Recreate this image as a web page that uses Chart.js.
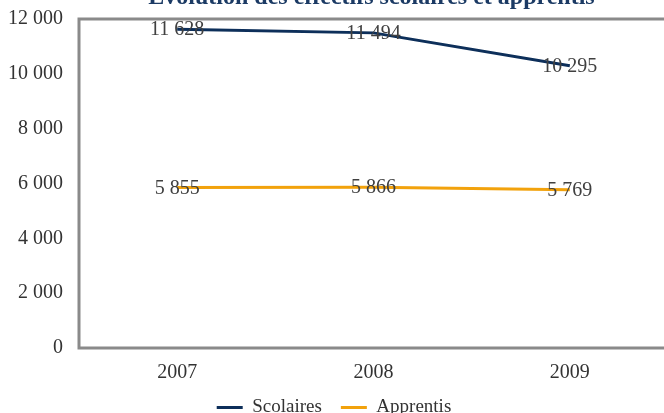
<!DOCTYPE html>
<html>
<head>
<meta charset="utf-8">
<script src="https://cdn.jsdelivr.net/npm/chart.js@4"></script>
<style>
  html, body { margin: 0; padding: 0; background: #fff; overflow: hidden; }
  canvas { display: block; }
</style>
</head>
<body>
<canvas id="chart" width="672" height="413"></canvas>
<script>
const years = ['2007', '2008', '2009'];
const scolaires = [11628, 11494, 10295];
const apprentis = [5855, 5866, 5769];
const titleText = 'Évolution des effectifs scolaires et apprentis';

const fmt = v => String(v).replace(/\B(?=(\d{3})+(?!\d))/g, ' ');
const FONT = '"Liberation Serif", "DejaVu Serif", serif';

// plot frame (right side falls off-canvas) + cropped title + point labels
const decor = {
    id: 'decor',
    afterDraw(chart) {
        const { ctx, chartArea: a } = chart;
        ctx.save();
        ctx.strokeStyle = '#8a8a8a';
        ctx.lineWidth = 3;
        ctx.beginPath();
        ctx.moveTo(chart.width, a.top);
        ctx.lineTo(a.left, a.top);
        ctx.lineTo(a.left, a.bottom);
        ctx.lineTo(chart.width, a.bottom);
        ctx.stroke();

        ctx.font = 'bold 24px ' + FONT;
        ctx.fillStyle = '#1b3a64';
        ctx.textAlign = 'center';
        ctx.textBaseline = 'alphabetic';
        ctx.fillText(titleText, (a.left + a.right) / 2 - 2, 4);

        ctx.font = '20px ' + FONT;
        ctx.fillStyle = '#404040';
        ctx.textBaseline = 'middle';
        chart.data.datasets.forEach((ds, i) => {
            chart.getDatasetMeta(i).data.forEach((pt, j) => {
                ctx.fillText(fmt(ds.data[j]), pt.x, pt.y + 1);
            });
        });
        ctx.restore();
    }
};

new Chart(document.getElementById('chart'), {
    type: 'line',
    data: {
        labels: years,
        datasets: [
            { label: 'Scolaires', data: scolaires, borderColor: '#0d2f5a', backgroundColor: '#0d2f5a', borderWidth: 3, pointRadius: 0, tension: 0 },
            { label: 'Apprentis', data: apprentis, borderColor: '#f2a20c', backgroundColor: '#f2a20c', borderWidth: 3, pointRadius: 0, tension: 0 }
        ]
    },
    options: {
        responsive: false,
        animation: false,
        layout: { padding: { top: 19, left: 0, right: 4, bottom: -14 } },
        plugins: {
            title: { display: false },
            tooltip: { enabled: false },
            legend: {
                position: 'bottom',
                labels: {
                    font: { family: FONT, size: 19 },
                    color: '#333',
                    boxWidth: 26,
                    boxHeight: 3,
                    padding: 19,
                    generateLabels(chart) {
                        return chart.data.datasets.map((ds, i) => ({
                            text: ds.label,
                            fillStyle: ds.borderColor,
                            strokeStyle: ds.borderColor,
                            lineWidth: 0,
                            hidden: false,
                            datasetIndex: i,
                            fontColor: '#333'
                        }));
                    }
                }
            }
        },
        scales: {
            x: {
                offset: true,
                grid: { display: false },
                border: { display: false },
                ticks: { font: { family: FONT, size: 20 }, color: '#333', padding: 5 },
                afterFit(scale) { scale.height = 31; scale.paddingLeft = 0; scale.paddingRight = 0; }
            },
            y: {
                min: 0,
                max: 12000,
                grid: { display: false },
                border: { display: false },
                ticks: {
                    stepSize: 2000,
                    font: { family: FONT, size: 20 },
                    color: '#333',
                    padding: 8,
                    callback: v => fmt(v)
                },
                afterFit(scale) { scale.width = 79; scale.paddingTop = 0; scale.paddingBottom = 0; }
            }
        }
    },
    plugins: [decor]
});
</script>
</body>
</html>
